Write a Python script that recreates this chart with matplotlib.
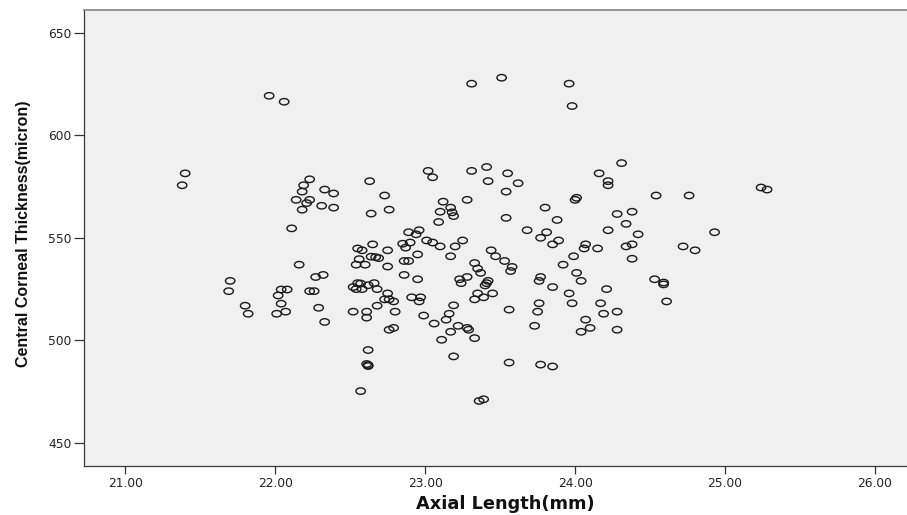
import matplotlib
matplotlib.use("Agg")
import matplotlib.pyplot as plt
from matplotlib.path import Path
from matplotlib.transforms import Affine2D
from matplotlib import font_manager

# ---- data ----
axial_length = [
    21.96, 22.06, 21.40, 21.38, 22.23, 22.19, 22.18, 22.33, 22.39, 22.14,
    22.23, 22.21, 22.18, 22.31, 22.39, 22.63, 22.73, 22.76, 22.64, 22.11,
    23.31, 23.51, 23.96, 23.98, 23.02, 23.05, 23.31, 23.41, 23.55, 23.42,
    23.62, 23.54, 23.28, 23.12, 23.10, 23.17, 23.18, 23.19, 23.09, 23.54,
    23.80, 23.88, 24.01, 24.00, 24.16, 24.31, 24.22, 24.22, 24.54, 24.28,
    24.38, 24.34, 24.22, 24.42, 23.68, 23.81, 22.89, 22.96, 22.94, 24.76,
    25.24, 25.28, 24.93, 21.70, 21.69, 21.80, 21.82, 22.01, 22.07, 22.04,
    22.02, 22.04, 22.08, 22.16, 22.27, 22.32, 22.23, 22.26, 22.29, 22.33,
    22.52, 22.61, 22.61, 22.62, 22.61, 22.62, 22.62, 22.57, 22.55, 22.58,
    22.65, 22.56, 22.54, 22.60, 22.64, 22.67, 22.69, 22.75, 22.75, 22.52,
    22.55, 22.57, 22.54, 22.58, 22.62, 22.66, 22.68, 22.75, 22.73, 22.76,
    22.79, 22.68, 22.80, 22.76, 22.79, 22.85, 22.90, 22.87, 22.95, 22.86,
    22.89, 22.86, 22.95, 23.01, 23.05, 23.10, 23.20, 23.25, 23.17, 23.77,
    23.85, 23.89, 24.07, 24.06, 24.15, 24.34, 24.38, 24.38, 23.99, 23.92,
    24.01, 24.04, 24.21, 23.96, 23.98, 24.17, 24.19, 24.28, 24.07, 24.10,
    24.04, 24.28, 24.72, 24.53, 24.59, 24.59, 24.61, 23.44, 23.47, 23.53,
    23.58, 23.57, 23.33, 23.35, 23.37, 23.23, 23.24, 23.28, 23.42, 23.41,
    23.40, 23.35, 23.33, 23.39, 23.45, 23.19, 23.16, 23.14, 23.06, 22.99,
    23.22, 23.28, 23.29, 23.17, 23.33, 23.11, 23.19, 23.56, 23.77, 23.76,
    23.85, 23.76, 23.75, 23.73, 23.56, 23.77, 23.85, 23.36, 23.39, 22.91,
    22.97, 22.96, 24.80,
]
cct = [
    619.2, 616.3, 581.4, 575.6, 578.5, 575.6, 572.5, 573.5, 571.6, 568.5,
    568.5, 566.9, 563.7, 565.6, 564.7, 577.6, 570.6, 563.7, 561.8, 554.6,
    625.1, 628.0, 625.1, 614.2, 582.6, 579.5, 582.6, 584.5, 581.4, 577.6,
    576.6, 572.5, 568.5, 567.6, 562.7, 564.7, 562.4, 560.6, 557.7, 559.7,
    564.7, 558.7, 569.5, 568.5, 581.4, 586.4, 577.6, 575.6, 570.6, 561.6,
    562.7, 556.8, 553.7, 551.7, 553.7, 552.7, 552.7, 553.7, 551.7, 570.6,
    574.5, 573.5, 552.7, 529.0, 524.0, 516.9, 513.0, 513.0, 514.0, 517.9,
    521.9, 524.8, 524.8, 536.9, 530.9, 531.9, 524.0, 524.0, 515.9, 509.0,
    514.0, 514.0, 511.1, 495.3, 488.5, 488.0, 487.5, 475.3, 544.8, 543.9,
    546.8, 539.6, 536.9, 536.9, 540.8, 540.6, 540.1, 543.9, 536.0, 526.0,
    527.9, 527.7, 525.0, 525.0, 526.9, 527.9, 525.0, 522.9, 520.0, 520.0,
    519.0, 516.9, 514.0, 505.2, 506.1, 547.1, 547.7, 545.2, 541.9, 538.7,
    538.7, 531.9, 529.8, 548.7, 547.7, 545.8, 545.8, 548.7, 541.0, 550.0,
    546.8, 548.7, 546.8, 544.8, 544.8, 545.8, 546.8, 539.8, 541.0, 536.9,
    532.9, 529.0, 525.0, 522.9, 518.1, 518.1, 513.0, 514.0, 510.1, 506.1,
    504.2, 505.2, 545.8, 529.8, 528.2, 527.3, 519.0, 543.9, 541.0, 538.7,
    535.8, 533.8, 537.7, 535.0, 532.9, 529.8, 527.9, 530.9, 529.0, 527.9,
    526.8, 522.9, 520.0, 521.0, 522.9, 517.1, 513.0, 510.1, 508.2, 512.1,
    507.1, 506.1, 505.2, 504.2, 501.1, 500.3, 492.2, 515.0, 530.9, 529.0,
    526.0, 518.1, 514.0, 507.1, 489.2, 488.2, 487.3, 470.5, 471.3, 521.0,
    521.0, 519.0, 543.9,
]
x_ticks = [21.0, 22.0, 23.0, 24.0, 25.0, 26.0]
x_tick_labels = ["21.00", "22.00", "23.00", "24.00", "25.00", "26.00"]
y_ticks = [450, 500, 550, 600, 650]
y_tick_labels = ["450", "500", "550", "600", "650"]
x_title = "Axial Length(mm)"
y_title = "Central Corneal Thickness(micron)"


def has_font(name):
    try:
        font_manager.findfont(font_manager.FontProperties(family=name),
                              fallback_to_default=False)
        return True
    except Exception:
        return False


W, H = 907, 515
fig = plt.figure(figsize=(W / 100, H / 100), dpi=100)
fig.patch.set_facecolor("white")
ax = fig.add_axes([83.5 / W, 1 - 466 / H, (W - 83.5) / W, (466 - 10) / H])
ax.set_facecolor("#f0f0f0")

# slightly flattened circle marker (reference image is horizontally stretched)
ellipse = Path.unit_circle().transformed(Affine2D().scale(1.0, 0.68))
ax.scatter(axial_length, cct, s=46, marker=ellipse, facecolors="none",
           edgecolors="#1a1a1a", linewidths=1.0, zorder=3)

ax.set_xlim(20.722, 26.213)
ax.set_ylim(438.8, 661.0)

ax.set_xticks(x_ticks)
ax.set_xticklabels(x_tick_labels)
ax.set_yticks(y_ticks)
ax.set_yticklabels(y_tick_labels)

tick_font = "DejaVu Sans"
ax.tick_params(axis="x", direction="out", length=6, width=0.9, color="#333333",
               pad=2, labelsize=8.8, labelcolor="#222222")
ax.tick_params(axis="y", direction="out", length=7, width=0.9, color="#333333",
               pad=1.5, labelsize=8.8, labelcolor="#222222")
for lab in ax.get_xticklabels() + ax.get_yticklabels():
    lab.set_fontfamily(tick_font)

for side in ("left", "bottom"):
    ax.spines[side].set_color("#3a3a3a")
    ax.spines[side].set_linewidth(0.9)
ax.spines["top"].set_color("#8c8c8c")
ax.spines["top"].set_linewidth(1.3)
ax.spines["right"].set_visible(False)

ax.set_xlabel(x_title, fontsize=12.8, fontweight="bold", family="DejaVu Sans",
              color="#111111")
ax.xaxis.set_label_coords((505 - 83.5) / (W - 83.5), (466 - 495) / 456)

if has_font("Liberation Sans Narrow"):
    yfam, ysize = "Liberation Sans Narrow", 13.0
else:
    yfam, ysize = "Liberation Sans", 11.5
ax.set_ylabel(y_title, fontsize=ysize, fontweight="bold", family=yfam,
              color="#111111")
ax.yaxis.set_label_coords((31 - 83.5) / (W - 83.5), 0.51)

fig.savefig("out.png", dpi=100)
